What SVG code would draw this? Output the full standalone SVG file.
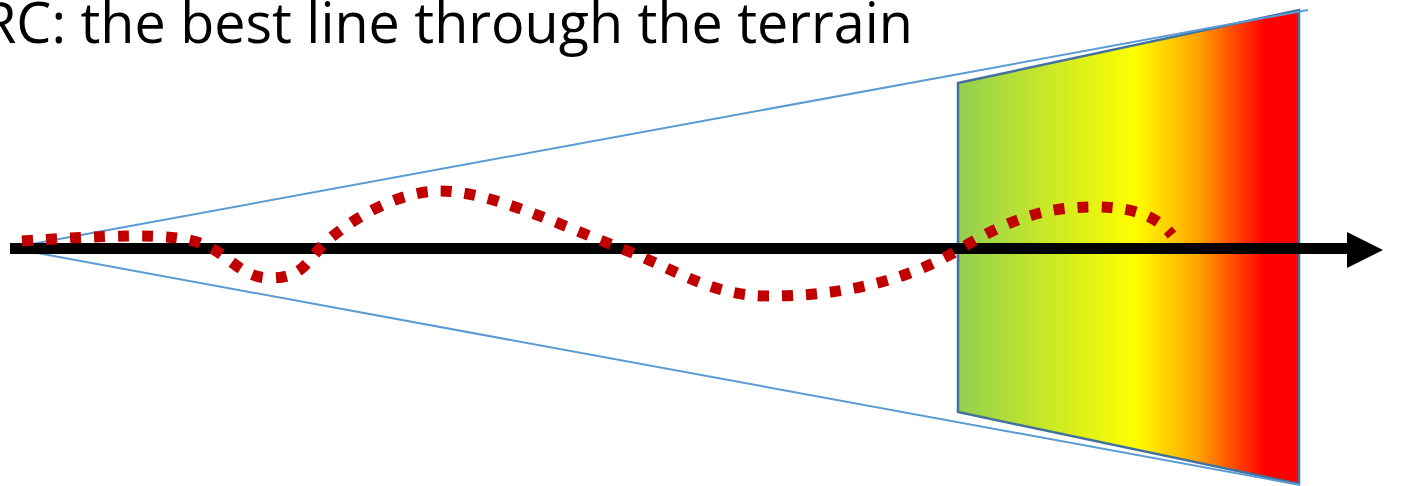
<svg xmlns="http://www.w3.org/2000/svg" width="1402" height="486" viewBox="0 0 1402 486">
  <style>
    .title { font-family: "Open Sans", "Noto Sans", "Liberation Sans", sans-serif; font-size: 57px; fill: #000000; }
    .cone { stroke: #5B9BD5; stroke-width: 2; fill: none; }
    .panel { stroke: #41719C; stroke-width: 2.5; }
    .axis { stroke: #000000; stroke-width: 11; fill: none; }
    .route { stroke: #C00000; stroke-width: 11; stroke-dasharray: 11 13; fill: none; }
  </style>
  <defs>
    <linearGradient id="heat" gradientUnits="userSpaceOnUse" x1="958" y1="0" x2="1299" y2="0">
      <stop offset="0" stop-color="#92D050"/>
      <stop offset="0.52" stop-color="#FFFF00"/>
      <stop offset="0.7" stop-color="#FFA500"/>
      <stop offset="0.9" stop-color="#FF0000"/>
      <stop offset="1" stop-color="#FF0000"/>
    </linearGradient>
  </defs>
  <g id="title">
    <text class="title" x="-18" y="43" textLength="931" lengthAdjust="spacingAndGlyphs">RC: the best line through the terrain</text>
  </g>
  <g id="terrain-panel">
    <polygon class="panel" points="958,83 1299,10 1299,484 958,412" fill="url(#heat)"/>
  </g>
  <g id="connectors">
    <line class="cone" x1="10" y1="248" x2="1308" y2="10"/>
    <line class="cone" x1="10" y1="248" x2="1300" y2="485"/>
    <line class="axis" x1="10" y1="248.5" x2="1350" y2="248.5"/>
    <polygon points="1347,232 1383,250 1347,268" fill="#000000"/>
    <path class="route" d="M 22 241 C 100 236 170 232 200 243 S 240 278 270 278 S 305 265 320 248 S 390 191 440 191 S 560 225 620 248 S 710 296 770 296 S 900 285 958 250 S 1050 207 1095 207 S 1160 220 1172 235"/>
  </g>
</svg>
